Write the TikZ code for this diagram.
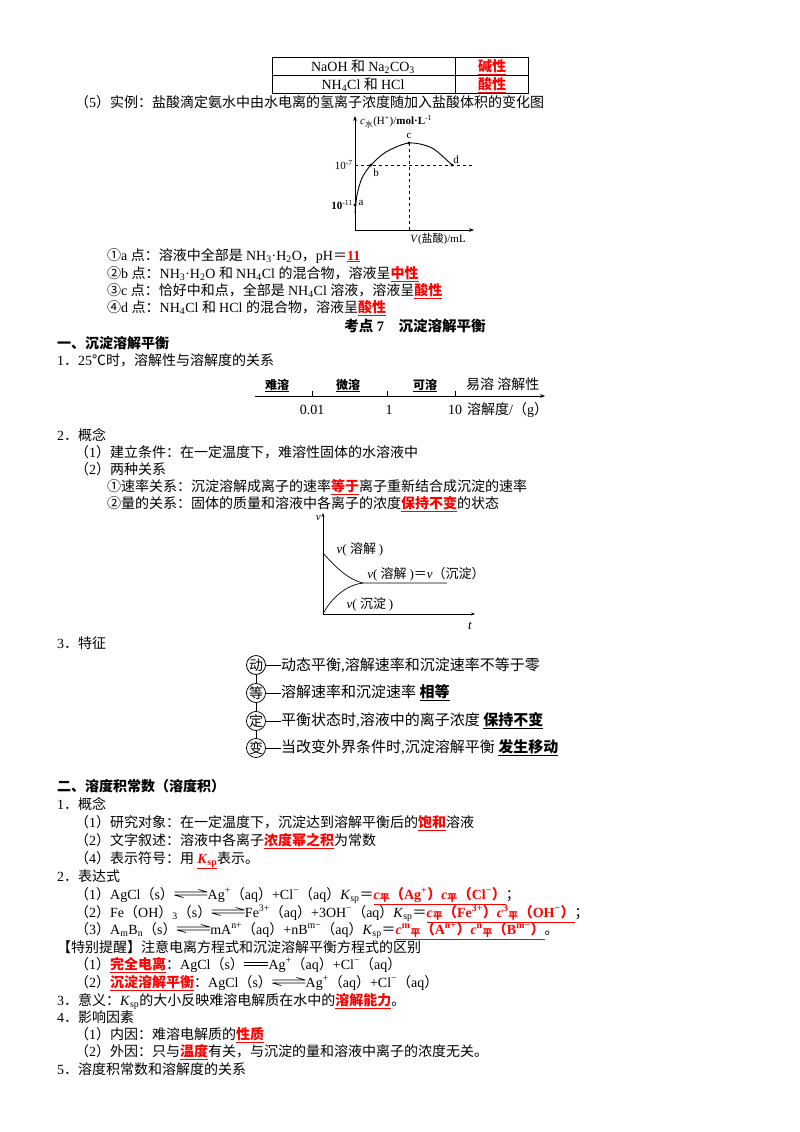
\documentclass[border=0pt]{standalone}
\usepackage{tikz}
\usepackage{fontspec}
\usetikzlibrary{arrows.meta}
\setmainfont{Liberation Serif}
\newfontfamily\cjk{Noto Sans CJK SC}
\newcommand\latinf{\rmfamily}
\XeTeXinterchartokenstate=1
\newXeTeXintercharclass\CJKcls
\newcount\cc
\def\setcls#1#2{\cc=#1 \loop \XeTeXcharclass\cc=\CJKcls \advance\cc by 1 \ifnum\cc<#2 \repeat}
\setcls{"3000}{"3040}
\setcls{"4E00}{"A000}
\setcls{"FF00}{"FF60}
\setcls{"2460}{"2474}
\XeTeXcharclass"2103=\CJKcls
\XeTeXinterchartoks 0 \CJKcls={\cjk}
\XeTeXinterchartoks 4095 \CJKcls={\cjk}
\XeTeXinterchartoks \CJKcls 0={\latinf}
\XeTeXinterchartoks 4095 0={\latinf}
\newcommand\ans[1]{\textcolor{red}{\bfseries\underline{#1}}}
\newcommand\bul[1]{{\bfseries\underline{#1}}}
\newcommand\Ksp{\textit{K}\textsubscript{sp}}
\newsavebox\eqa
\newsavebox\eqd
\begin{document}
\sbox\eqa{\tikz[baseline=0pt,x=1pt,y=1pt,line width=0.7pt]{\draw (0,7)--(33,7) (33,7)--(24,9.5) (0,4)--(33,4) (0,4)--(9,1.5);}}%
\sbox\eqd{\tikz[baseline=0pt,x=1pt,y=1pt,line width=0.6pt]{\draw (0,3.5)--(24,3.5) (0,6.5)--(24,6.5);}}%
\begin{tikzpicture}[x=1pt,y=-1pt,
  every node/.append style={font=\fontsize{14}{17}\selectfont},
  t/.style={anchor=base west,inner sep=0pt},
  tc/.style={anchor=base,inner sep=0pt},
  sm/.style={font=\fontsize{11}{13}\selectfont,inner sep=0pt},
  ax/.style={line width=0.8pt,-{Stealth[length=5pt]}},
  ccl/.style={circle,draw,line width=0.8pt,minimum size=19pt,inner sep=0pt,font=\fontsize{14}{16}\selectfont}]
\useasboundingbox (0,0) rectangle (800,1132);
\fill[white] (0,0) rectangle (800,1132);
% table
\draw[line width=0.6pt] (272,57) rectangle (528,93) (272,75)--(528,75) (455,57)--(455,93);
\node[tc] (r1a) at (363,71) {NaOH 和 Na\textsubscript{2}CO\textsubscript{3}};
\node[tc] (r1b) at (492,71) {\ans{碱性}};
\node[tc] (r2a) at (363,89) {NH\textsubscript{4}Cl 和 HCl};
\node[tc] (r2b) at (492,89) {\ans{酸性}};
\node[t] (l5) at (75,107) {（5）实例：盐酸滴定氨水中由水电离的氢离子浓度随加入盐酸体积的变化图};
% graph 1
\coordinate (o1) at (355,230);
\draw[ax] (o1) -- (355,116);
\draw[ax] (o1) -- (474,230);
\node[sm,anchor=west] (yl1) at (360,122) {\textit{c}\textsubscript{水}(H\textsuperscript{+})/\textbf{mol·L}\textsuperscript{-1}};
\node[sm,anchor=north] (xl1) at (438,233) {\textit{V}(盐酸)/mL};
\draw[dashed,line width=0.6pt] (355,165) -- (472,165);
\draw[dashed,line width=0.6pt] (409,143) -- (409,230);
\draw[line width=0.9pt] plot[smooth] coordinates {(355,213)(357,195)(362,178)(371,165)(386,152)(409,143)(432,148)(452,165)};
\fill (355,205) circle (1.6) (371,165) circle (1.6) (409,143) circle (1.6) (452,165) circle (1.6);
\node[sm,anchor=east] (n7) at (353,165) {10\textsuperscript{-7}};
\node[sm,anchor=east] (n11) at (353,205) {\textbf{10}\textsuperscript{-11}};
\node[sm] (pa) at (361,203) {a};
\node[sm] (pb) at (376,173) {b};
\node[sm] (pc) at (409,136) {c};
\node[sm] (pd) at (456,160) {d};
\node[t] (i1) at (107,260) {①a 点：溶液中全部是 NH\textsubscript{3}·H\textsubscript{2}O，pH＝\ans{11}};
\node[t] (i2) at (107,278) {②b 点：NH\textsubscript{3}·H\textsubscript{2}O 和 NH\textsubscript{4}Cl 的混合物，溶液呈\ans{中性}};
\node[t] (i3) at (107,295) {③c 点：恰好中和点，全部是 NH\textsubscript{4}Cl 溶液，溶液呈\ans{酸性}};
\node[t] (i4) at (107,312) {④d 点：NH\textsubscript{4}Cl 和 HCl 的混合物，溶液呈\ans{酸性}};
\node[tc,font=\fontsize{14.5}{17}\selectfont\bfseries] (kd) at (415,331) {考点 7　沉淀溶解平衡};
\node[t,font=\fontsize{14}{17}\selectfont\bfseries] (h1) at (57,348) {一、沉淀溶解平衡};
\node[t] (s1) at (57,365) {1．25℃时，溶解性与溶解度的关系};
% solubility axis
\draw[line width=0.6pt,-{Stealth[length=5pt]}] (255,396) -- (545,396);
\foreach \x in {312,387,455} \draw[line width=0.6pt] (\x,396) -- (\x,391);
\node[tc,font=\fontsize{12}{14}\selectfont] (nr) at (277,389) {\bul{难溶}};
\node[tc,font=\fontsize{12}{14}\selectfont] (ws) at (348,389) {\bul{微溶}};
\node[tc,font=\fontsize{12}{14}\selectfont] (ks) at (425,389) {\bul{可溶}};
\node[t] (ys) at (466,389) {易溶 溶解性};
\node[tc] (v001) at (312,414) {0.01};
\node[tc] (v1) at (389,414) {1};
\node[tc] (v10) at (455,414) {10};
\node[t] (sjd) at (467,414) {溶解度/（g）};
\node[t] (s2) at (57,440) {2．概念};
\node[t] (s21) at (75,457) {（1）建立条件：在一定温度下，难溶性固体的水溶液中};
\node[t] (s22) at (75,474) {（2）两种关系};
\node[t] (s23) at (107,491) {①速率关系：沉淀溶解成离子的速率\ans{等于}离子重新结合成沉淀的速率};
\node[t] (s24) at (107,508) {②量的关系：固体的质量和溶液中各离子的浓度\ans{保持不变}的状态};
% v-t graph
\coordinate (o2) at (323,614);
\draw[line width=0.7pt,-{Stealth[length=4pt]}] (o2) -- (323,513);
\draw[line width=0.7pt,-{Stealth[length=4pt]}] (o2) -- (475,614);
\node[sm,anchor=east] (vv) at (321,518) {\textit{v}};
\node[sm,font=\fontsize{13}{14}\selectfont\itshape] (tt) at (470,626) {t};
\draw[line width=0.7pt] (323,553) .. controls (338,570) and (350,580) .. (363,583) -- (447,583);
\draw[line width=0.7pt] (o2) .. controls (330,600) and (345,585) .. (363,583);
\node[sm,font=\fontsize{13}{15}\selectfont] (vr) at (360,549) {\textit{v}( 溶解 )};
\node[sm,font=\fontsize{13}{15}\selectfont] (veq) at (426,574) {\textit{v}( 溶解 )＝\textit{v}（沉淀）};
\node[sm,font=\fontsize{13}{15}\selectfont] (vc) at (370,604) {\textit{v}( 沉淀 )};
\node[t] (s3) at (57,648) {3．特征};
% features
\node[ccl] (c1) at (256,665) {动};
\node[ccl] (c2) at (256,693) {等};
\node[ccl] (c3) at (256,721) {定};
\node[ccl] (c4) at (256,748) {变};
\draw[line width=0.6pt] (c1) -- (c2) (c2) -- (c3) (c3) -- (c4);
\node[anchor=west,inner sep=0pt,font=\fontsize{15}{17}\selectfont] (f1) at (281,665) {动态平衡,溶解速率和沉淀速率不等于零};
\node[anchor=west,inner sep=0pt,font=\fontsize{15}{17}\selectfont] (f2) at (281,693) {溶解速率和沉淀速率 \bul{相等}};
\node[anchor=west,inner sep=0pt,font=\fontsize{15}{17}\selectfont] (f3) at (281,721) {平衡状态时,溶液中的离子浓度 \bul{保持不变}};
\node[anchor=west,inner sep=0pt,font=\fontsize{15}{17}\selectfont] (f4) at (281,748) {当改变外界条件时,沉淀溶解平衡 \bul{发生移动}};
\foreach \i in {1,...,4} \draw[line width=0.8pt] (c\i.east) -- (f\i.west);
% section 2
\node[t,font=\fontsize{14}{17}\selectfont\bfseries] (h2) at (57,791) {二、溶度积常数（溶度积）};
\node[t] (g1) at (57,809) {1．概念};
\node[t] (g11) at (75,827) {（1）研究对象：在一定温度下，沉淀达到溶解平衡后的\ans{饱和}溶液};
\node[t] (g12) at (75,845) {（2）文字叙述：溶液中各离子\ans{浓度幂之积}为常数};
\node[t] (g14) at (75,863) {（4）表示符号：用 \ans{\Ksp}表示。};
\node[t] (g2) at (57,881) {2．表达式};
\node[t] (e1) at (75,899) {（1）AgCl（s）\usebox\eqa Ag\textsuperscript{+}（aq）+Cl\textsuperscript{−}（aq）\Ksp＝\ans{\textit{c}\textsubscript{平}（Ag\textsuperscript{+}）\textit{c}\textsubscript{平}（Cl\textsuperscript{−}）}；};
\node[t] (e2) at (75,917) {（2）Fe（OH）\textsubscript{3}（s）\usebox\eqa Fe\textsuperscript{3+}（aq）+3OH\textsuperscript{−}（aq）\Ksp＝\ans{\textit{c}\textsubscript{平}（Fe\textsuperscript{3+}）\textit{c}\textsuperscript{3}\textsubscript{平}（OH\textsuperscript{−}）}；};
\node[t] (e3) at (75,934) {（3）A\textsubscript{m}B\textsubscript{n}（s）\usebox\eqa mA\textsuperscript{n+}（aq）+nB\textsuperscript{m−}（aq）\Ksp＝\ans{\textit{c}\textsuperscript{m}\textsubscript{平}（A\textsuperscript{n+}）\textit{c}\textsuperscript{n}\textsubscript{平}（B\textsuperscript{m−}）}。};
\node[t] (tx) at (57,952) {【特别提醒】注意电离方程式和沉淀溶解平衡方程式的区别};
\node[t] (tx1) at (75,969) {（1）\ans{完全电离}：AgCl（s）\usebox\eqd Ag\textsuperscript{+}（aq）+Cl\textsuperscript{−}（aq）};
\node[t] (tx2) at (75,987) {（2）\ans{沉淀溶解平衡}：AgCl（s）\usebox\eqa Ag\textsuperscript{+}（aq）+Cl\textsuperscript{−}（aq）};
\node[t] (g3) at (57,1005) {3．意义：\Ksp 的大小反映难溶电解质在水中的\ans{溶解能力}。};
\node[t] (g4) at (57,1022) {4．影响因素};
\node[t] (g41) at (75,1039) {（1）内因：难溶电解质的\ans{性质}};
\node[t] (g42) at (75,1056) {（2）外因：只与\ans{温度}有关，与沉淀的量和溶液中离子的浓度无关。};
\node[t] (g5) at (57,1074) {5．溶度积常数和溶解度的关系};
\end{tikzpicture}
\end{document}
